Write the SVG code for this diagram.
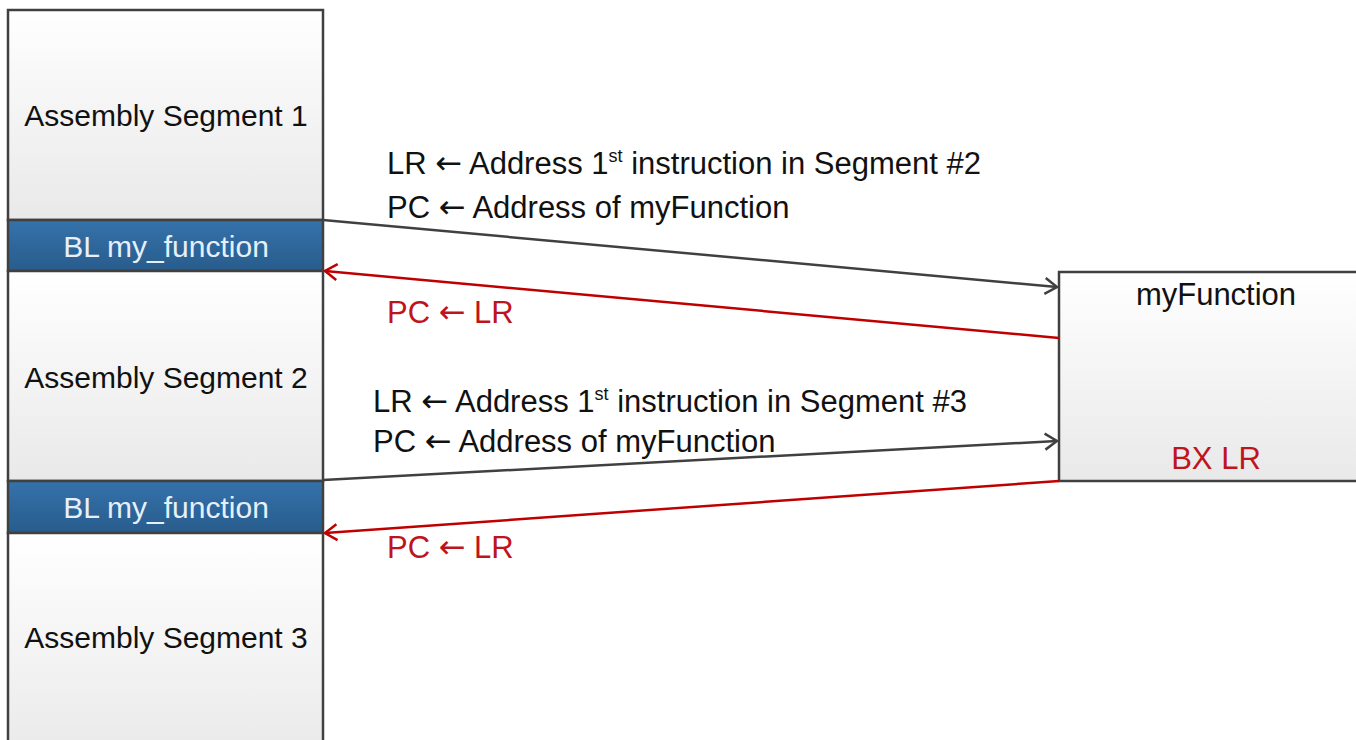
<svg xmlns="http://www.w3.org/2000/svg" width="1356" height="740" viewBox="0 0 1356 740">
<defs>
<linearGradient id="gBox" x1="0" y1="0" x2="0" y2="1">
<stop offset="0" stop-color="#ffffff"/>
<stop offset="1" stop-color="#e9e9e9"/>
</linearGradient>
<linearGradient id="gBlue" x1="0" y1="0" x2="0" y2="1">
<stop offset="0" stop-color="#3572ab"/>
<stop offset="1" stop-color="#285c8c"/>
</linearGradient>
<marker id="mBlack" viewBox="-14 -10 16 20" markerWidth="16" markerHeight="20" refX="0" refY="0" orient="auto" markerUnits="userSpaceOnUse">
<path d="M-12,-8 L0,0 L-12,8" fill="none" stroke="#404040" stroke-width="2.5"/>
</marker>
<marker id="mRed" viewBox="-14 -10 16 20" markerWidth="16" markerHeight="20" refX="0" refY="0" orient="auto" markerUnits="userSpaceOnUse">
<path d="M-12,-8 L0,0 L-12,8" fill="none" stroke="#c00000" stroke-width="2.5"/>
</marker>
</defs>
<style>
.box{fill:url(#gBox);stroke:#404040;stroke-width:2.5}
.bl{fill:url(#gBlue);stroke:#404040;stroke-width:2.5}
.t{font-family:"Liberation Sans",Arial,sans-serif;font-size:30px;fill:#111}
.tw{font-family:"Liberation Sans",Arial,sans-serif;font-size:30px;fill:#e6f0fa}
.tr{font-family:"Liberation Sans",Arial,sans-serif;font-size:30px;fill:#c0141c}
.l{font-size:31px}
.ar{font-family:"DejaVu Sans",sans-serif;font-size:32px}
.lk{fill:none;stroke:#404040;stroke-width:2.5}
.lr{fill:none;stroke:#c00000;stroke-width:2.5}
</style>
<rect x="0" y="0" width="1356" height="740" fill="#ffffff"/>
<g id="seg1">
<rect class="box" x="8" y="10" width="315" height="210"/>
<text class="t" x="166" y="126" text-anchor="middle">Assembly Segment 1</text>
</g>
<g id="bl1">
<rect class="bl" x="8" y="220" width="315" height="51"/>
<text class="tw" x="166" y="257" text-anchor="middle">BL my_function</text>
</g>
<g id="seg2">
<rect class="box" x="8" y="271" width="315" height="210"/>
<text class="t" x="166" y="388" text-anchor="middle">Assembly Segment 2</text>
</g>
<g id="bl2">
<rect class="bl" x="8" y="481" width="315" height="52"/>
<text class="tw" x="166" y="518" text-anchor="middle">BL my_function</text>
</g>
<g id="seg3">
<rect class="box" x="8" y="533" width="315" height="230"/>
<text class="t" x="166" y="648" text-anchor="middle">Assembly Segment 3</text>
</g>
<g id="myFunction">
<rect class="box" x="1059" y="272" width="320" height="209"/>
<text class="t l" x="1216" y="305" text-anchor="middle">myFunction</text>
<text class="tr l" x="1216" y="469" text-anchor="middle">BX LR</text>
</g>
<g id="connectors">
<line class="lk" x1="323" y1="220" x2="1057" y2="287" marker-end="url(#mBlack)"/>
<line class="lr" x1="1059" y1="338" x2="325" y2="271" marker-end="url(#mRed)"/>
<line class="lk" x1="323" y1="480" x2="1057" y2="441" marker-end="url(#mBlack)"/>
<line class="lr" x1="1059" y1="481" x2="325" y2="533" marker-end="url(#mRed)"/>
</g>
<g id="labels">
<text class="t l" x="387" y="174">LR <tspan class="ar">←</tspan> Address 1<tspan font-size="18" dy="-12">st</tspan><tspan dy="12"> instruction in Segment #2</tspan></text>
<text class="t l" x="387" y="218">PC <tspan class="ar">←</tspan> Address of myFunction</text>
<text class="tr l" x="387" y="323">PC <tspan class="ar">←</tspan> LR</text>
<text class="t l" x="373" y="412">LR <tspan class="ar">←</tspan> Address 1<tspan font-size="18" dy="-12">st</tspan><tspan dy="12"> instruction in Segment #3</tspan></text>
<text class="t l" x="373" y="452">PC <tspan class="ar">←</tspan> Address of myFunction</text>
<text class="tr l" x="387" y="558">PC <tspan class="ar">←</tspan> LR</text>
</g>
</svg>
